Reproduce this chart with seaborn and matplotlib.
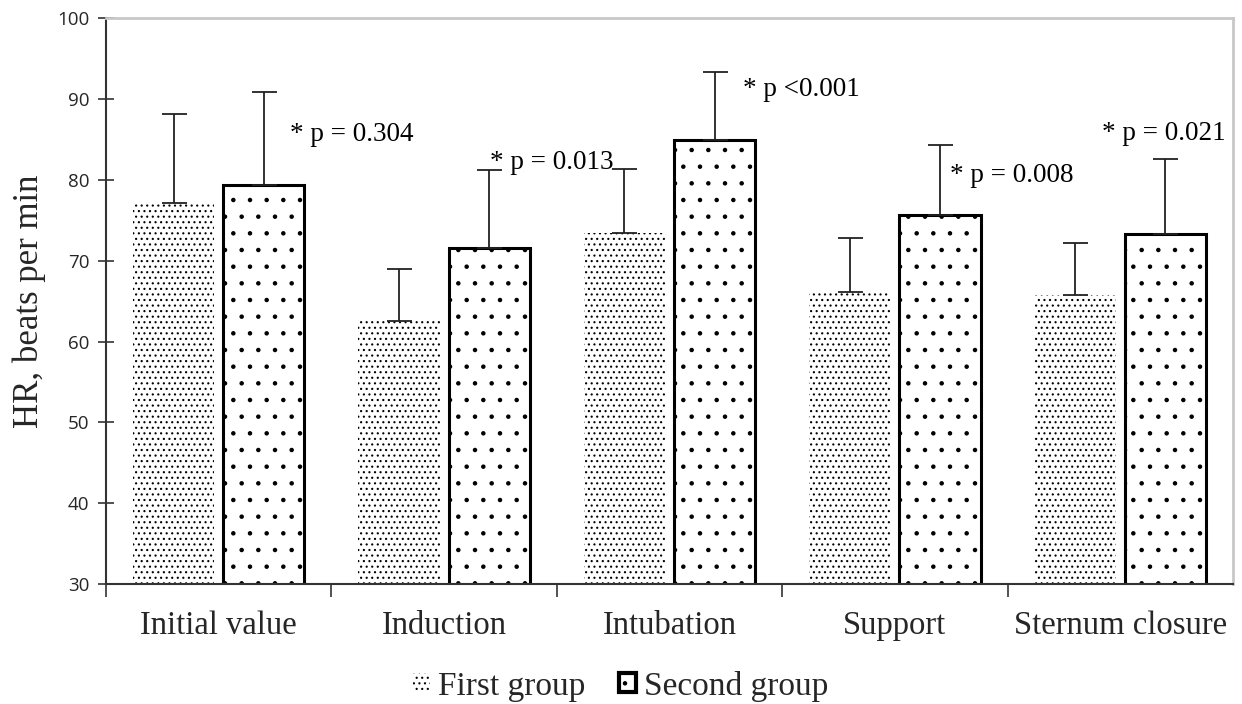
import numpy as np
import pandas as pd
import seaborn as sns
import matplotlib.pyplot as plt
from matplotlib.patches import Patch

# heart rate by stage, mean and SD for both groups
stages = ["Initial value", "Induction", "Intubation", "Support", "Sternum closure"]
groups = ["First group", "Second group"]
first_mean = [77.2, 62.6, 73.4, 66.1, 65.7]
first_sd = [10.9, 6.4, 7.9, 6.7, 6.5]
second_mean = [79.4, 71.6, 85.0, 75.7, 73.3]
second_sd = [11.5, 9.6, 8.3, 8.6, 9.3]
p_labels = ["* p = 0.304", "* p = 0.013", "* p <0.001", "* p = 0.008", "* p = 0.021"]
p_dx = [0.315, 0.204, 0.324, 0.244, -0.08]
p_y = [85.6, 82.2, 91.2, 80.6, 85.7]

df = pd.DataFrame({
    "stage": stages * 2,
    "group": [groups[0]] * 5 + [groups[1]] * 5,
    "hr": first_mean + second_mean,
})

sns.set_style("white")
plt.rcParams["hatch.linewidth"] = 0.8
serif = ["Liberation Serif", "DejaVu Serif"]
sans = ["Open Sans", "DejaVu Sans"]
hatches = ["...", "."]
edge_w = [0, 2.2]

fig = plt.figure(figsize=(12.42, 7.04), dpi=100)
ax = fig.add_axes([0.0853, 0.1705, 0.9075, 0.8035])

sns.barplot(data=df, x="stage", y="hr", hue="group", order=stages,
            hue_order=groups, errorbar=None, width=0.8, gap=0.1,
            palette=["white", "white"], ax=ax, legend=False)

for bars, h, lw in zip(ax.containers, hatches, edge_w):
    for p in bars:
        p.set_hatch(h)
        p.set_edgecolor("black")
        p.set_linewidth(lw)

for bars, means, sds in zip(ax.containers[:2], [first_mean, second_mean],
                            [first_sd, second_sd]):
    xs = [p.get_x() + p.get_width() / 2 for p in bars]
    ax.errorbar(xs, means, yerr=[np.zeros(len(sds)), sds], fmt="none",
                ecolor="#222222", elinewidth=1.3, capsize=9, capthick=1.3,
                zorder=1)

for i, (lab, dx, y) in enumerate(zip(p_labels, p_dx, p_y)):
    ax.text(i + dx, y, lab, ha="left", va="center", fontsize=19.5,
            family=serif, color="black")

ax.set_ylim(30, 100)
ax.set_xlim(-0.5, len(stages) - 0.5)
ax.set_yticks(range(30, 101, 10))
ax.set_yticklabels([str(v) for v in range(30, 101, 10)], family=sans, fontsize=13.5)
ax.set_xticks(np.arange(len(stages)))
ax.set_xticklabels(stages, family=serif, fontsize=23.5)
ax.set_xticks(np.arange(-0.5, len(stages) - 1, 1), minor=True)
ax.tick_params(axis="x", which="major", bottom=False, length=0, pad=19)
ax.tick_params(axis="x", which="minor", bottom=True, direction="out",
               length=9, width=1.2, color="#333333")
ax.tick_params(axis="y", left=True, direction="inout", length=12, width=1.2,
               color="#333333", pad=6)
ax.set_xlabel("")
ax.set_ylabel("HR, beats per min", family=serif, fontsize=25, labelpad=8)

for s in ["left", "bottom"]:
    ax.spines[s].set_color("#333333")
    ax.spines[s].set_linewidth(1.5)
for s in ["top", "right"]:
    ax.spines[s].set_color("#c8c8c8")
    ax.spines[s].set_linewidth(2)

handles = [Patch(facecolor="white", edgecolor="black", hatch=h, linewidth=lw)
           for h, lw in zip(hatches, [0, 3])]
ax.legend(handles, groups, loc="center",
          bbox_to_anchor=(0.5, 1 - 686 / 704), bbox_transform=fig.transFigure,
          frameon=False, ncol=2, prop={"family": serif, "size": 24},
          handlelength=0.5, handleheight=0.5, handletextpad=0.25,
          columnspacing=1.0)

fig.savefig("out.png", dpi=100)
